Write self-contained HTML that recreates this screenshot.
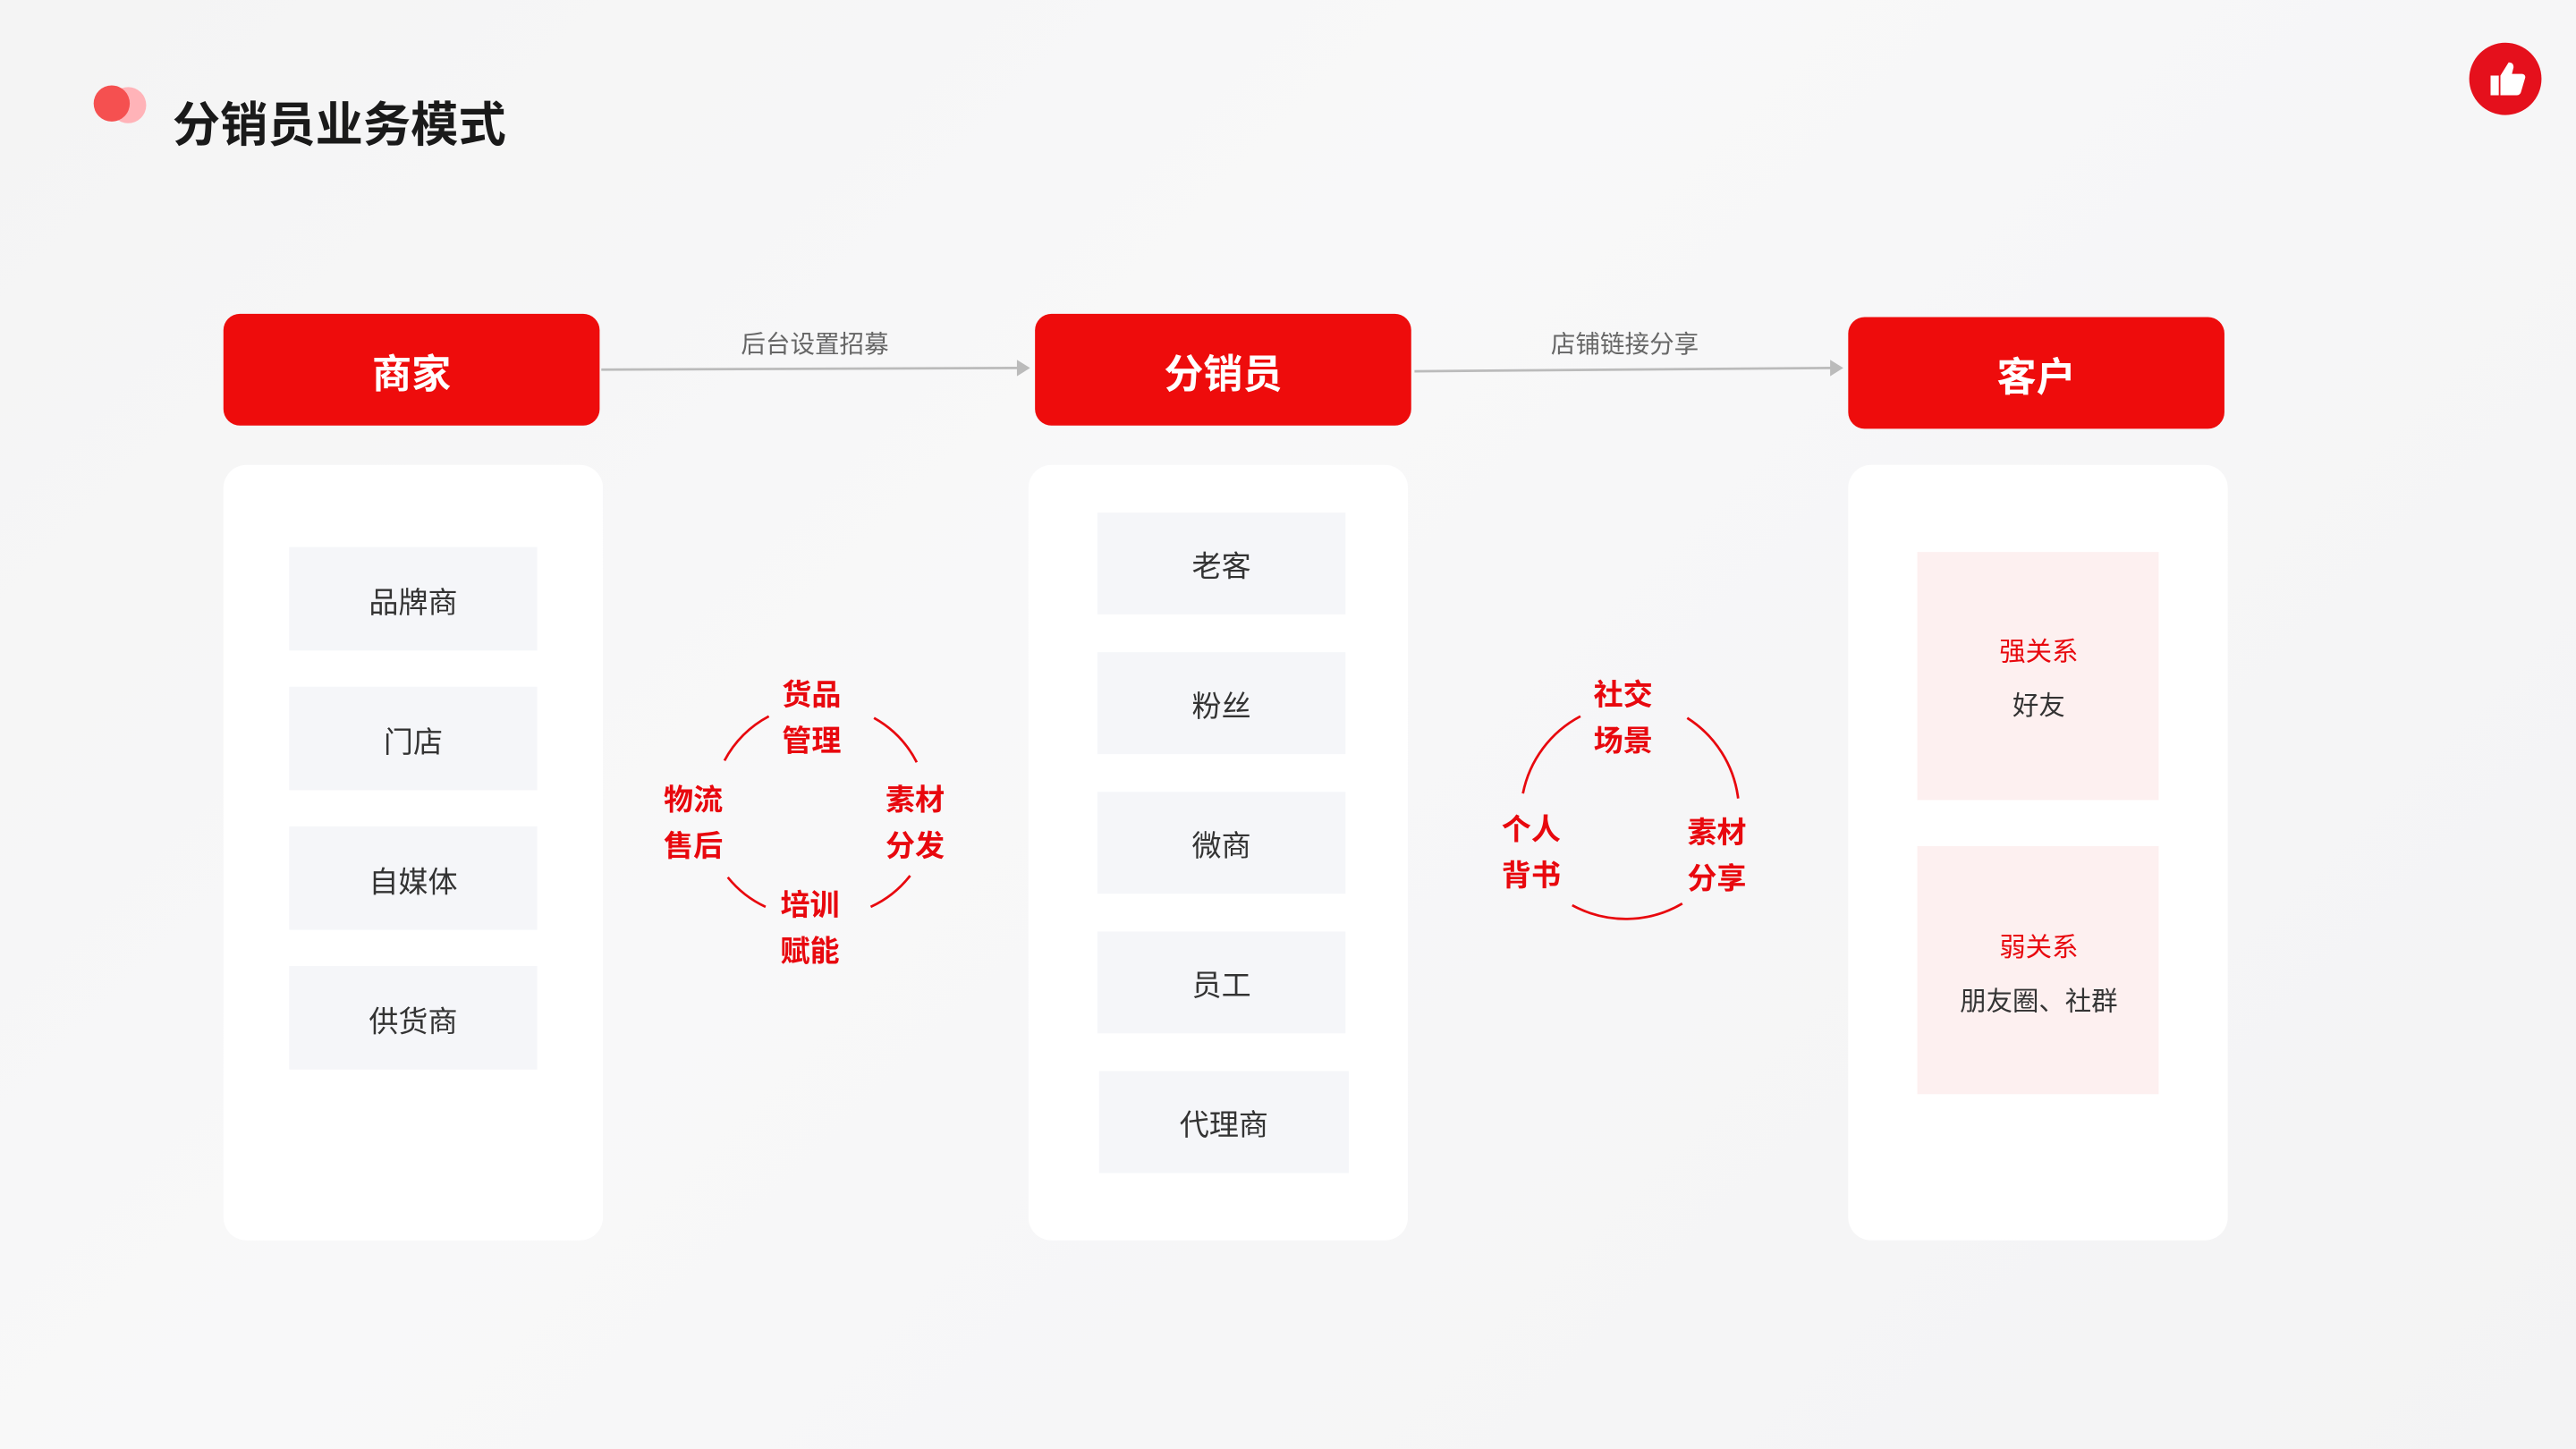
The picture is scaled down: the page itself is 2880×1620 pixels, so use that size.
<!DOCTYPE html>
<html><head><meta charset="utf-8"><style>
html,body{margin:0;padding:0;}
body{width:2880px;height:1620px;overflow:hidden;background:#f6f6f6;}
#w{position:absolute;left:0;top:0;width:1568px;height:882px;transform:scale(1.836735);transform-origin:0 0;
background:linear-gradient(135deg,#f4f4f4 0%,#f8f8f9 40%,#f3f3f4 100%);
font-family:"Liberation Sans","Noto Sans CJK SC",sans-serif;}
.a{position:absolute;}
.hd{position:absolute;background:#ee0c0c;border-radius:10px;color:#fff;font-size:24px;font-weight:bold;display:flex;align-items:center;justify-content:center;}
.card{position:absolute;background:#fff;border-radius:14px;}
.it{position:absolute;background:#f5f6f9;color:#333;font-size:18px;display:flex;align-items:center;justify-content:center;padding-top:2px;box-sizing:border-box;}
.pk{position:absolute;background:#fdf0f0;left:1167px;width:147px;height:151px;}
.t{position:absolute;transform:translate(-50%,-50%);white-space:nowrap;}
.r{color:#e8080e;font-size:18px;font-weight:bold;}
.lb{color:#666;font-size:15px;}
</style></head><body><div id="w">
<div class="a" style="left:67px;top:53px;width:22px;height:22px;border-radius:50%;background:#ffb3b8;"></div>
<div class="a" style="left:57px;top:52px;width:22px;height:22px;border-radius:50%;background:#f55050;"></div>
<div class="a" style="left:105px;top:53px;font-size:29px;font-weight:bold;color:#1a1a1a;">分销员业务模式</div>
<svg class="a" style="left:1502px;top:25px" width="46" height="46" viewBox="0 0 46 46">
<circle cx="23" cy="23" r="22" fill="#e5101c"/>
<path d="M14 21h5v12h-5z M20 21l5-8c2 0 3 1 3 3l-1 4h6c1.5 0 2.5 1.2 2 2.6l-2.5 8.5c-.3 1-1.2 1.9-2.5 1.9H20z" fill="#fff"/>
</svg>

<div class="hd" style="left:136px;top:191px;width:229px;height:68px;">商家</div>
<div class="hd" style="left:630px;top:191px;width:229px;height:68px;">分销员</div>
<div class="hd" style="left:1125px;top:193px;width:229px;height:68px;">客户</div>

<svg class="a" style="left:0;top:0" width="1568" height="882">
<line x1="366" y1="225" x2="620" y2="224" stroke="#bbb" stroke-width="1.5"/>
<polygon points="619,219 627,224 619,229" fill="#bbb"/>
<line x1="861" y1="226" x2="1115" y2="224" stroke="#bbb" stroke-width="1.5"/>
<polygon points="1114,219 1122,224 1114,229" fill="#bbb"/>
<g fill="none" stroke="#e8080e" stroke-width="1.5">
<path d="M441 463 A64 64 0 0 1 468 436"/>
<path d="M532 437 A64 64 0 0 1 558 464"/>
<path d="M443 534 A64 64 0 0 0 466 552"/>
<path d="M530 552 A64 64 0 0 0 554 533"/>
<path d="M927 483 A68 68 0 0 1 962 436"/>
<path d="M1027 437 A68 68 0 0 1 1058 486"/>
<path d="M957 551 A68 68 0 0 0 1024 550"/>
</g>
</svg>
<div class="t lb" style="left:496px;top:209px;">后台设置招募</div>
<div class="t lb" style="left:989px;top:209px;">店铺链接分享</div>

<div class="card" style="left:136px;top:283px;width:231px;height:472px;"></div>
<div class="card" style="left:626px;top:283px;width:231px;height:472px;"></div>
<div class="card" style="left:1125px;top:283px;width:231px;height:472px;"></div>

<div class="it" style="left:176px;top:333px;width:151px;height:63px;">品牌商</div>
<div class="it" style="left:176px;top:418px;width:151px;height:63px;">门店</div>
<div class="it" style="left:176px;top:503px;width:151px;height:63px;">自媒体</div>
<div class="it" style="left:176px;top:588px;width:151px;height:63px;">供货商</div>

<div class="it" style="left:668px;top:312px;width:151px;height:62px;">老客</div>
<div class="it" style="left:668px;top:397px;width:151px;height:62px;">粉丝</div>
<div class="it" style="left:668px;top:482px;width:151px;height:62px;">微商</div>
<div class="it" style="left:668px;top:567px;width:151px;height:62px;">员工</div>
<div class="it" style="left:669px;top:652px;width:152px;height:62px;">代理商</div>

<div class="pk" style="top:336px;"></div>
<div class="pk" style="top:515px;"></div>
<div class="t" style="left:1241px;top:395px;color:#e8080e;font-size:16px;">强关系</div>
<div class="t" style="left:1241px;top:428px;color:#333;font-size:16px;">好友</div>
<div class="t" style="left:1241px;top:575px;color:#e8080e;font-size:16px;">弱关系</div>
<div class="t" style="left:1241px;top:608px;color:#333;font-size:16px;">朋友圈、社群</div>

<div class="t r" style="left:494px;top:422px;">货品</div>
<div class="t r" style="left:494px;top:450px;">管理</div>
<div class="t r" style="left:422px;top:486px;">物流</div>
<div class="t r" style="left:422px;top:514px;">售后</div>
<div class="t r" style="left:557px;top:486px;">素材</div>
<div class="t r" style="left:557px;top:514px;">分发</div>
<div class="t r" style="left:493px;top:550px;">培训</div>
<div class="t r" style="left:493px;top:578px;">赋能</div>

<div class="t r" style="left:988px;top:422px;">社交</div>
<div class="t r" style="left:988px;top:450px;">场景</div>
<div class="t r" style="left:932px;top:504px;">个人</div>
<div class="t r" style="left:932px;top:532px;">背书</div>
<div class="t r" style="left:1045px;top:506px;">素材</div>
<div class="t r" style="left:1045px;top:534px;">分享</div>
</div></body></html>
